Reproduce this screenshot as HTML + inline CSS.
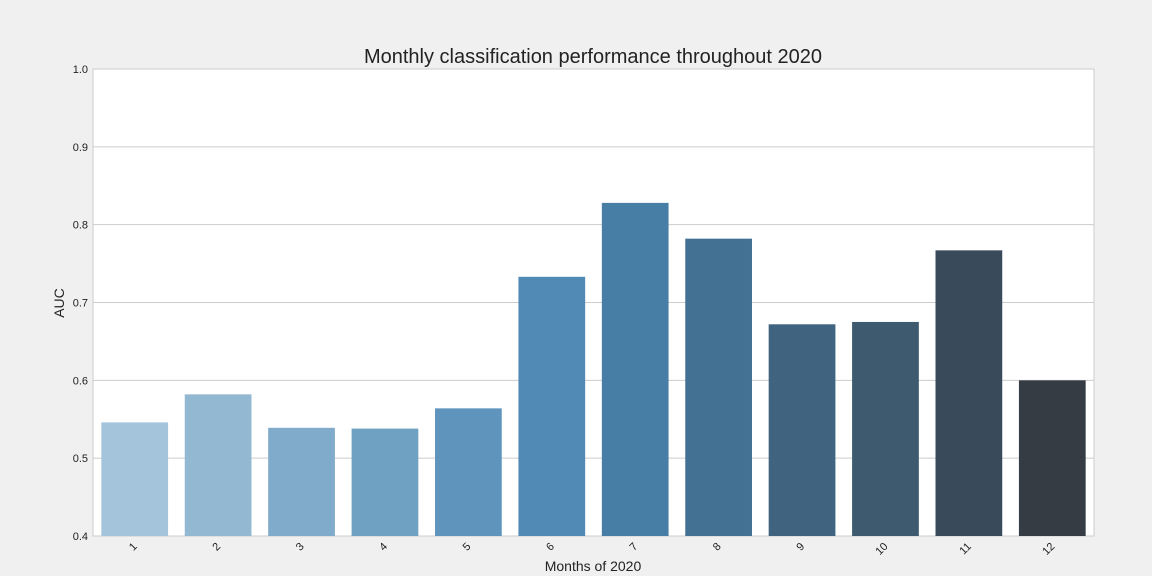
<!DOCTYPE html>
<html><head><meta charset="utf-8"><style>
html,body{margin:0;padding:0;background:#f0f0f0;}
svg{display:block;font-family:"Liberation Sans",sans-serif;}
</style></head><body>
<svg id="chart" width="1152" height="576">
<rect x="0" y="0" width="1152" height="576" fill="#f0f0f0"/>
<rect x="93" y="69" width="1001" height="467" fill="#ffffff" stroke="#cccccc"/>
<g id="grid"></g>
<g id="bars"></g>
<g id="xt"></g>
<g id="yt"></g>
<text x="593" y="63" text-anchor="middle" font-size="20" fill="#222">Monthly classification performance throughout 2020</text>
<text x="593" y="571" text-anchor="middle" font-size="14" fill="#222">Months of 2020</text>
<text transform="translate(64,303) rotate(-90)" text-anchor="middle" font-size="14" fill="#222">AUC</text>
</svg>
<script>
const categories = ["1","2","3","4","5","6","7","8","9","10","11","12"];
const aucValues = [0.546,0.582,0.539,0.538,0.564,0.733,0.828,0.782,0.672,0.675,0.767,0.600];
const yTicks = [0.4,0.5,0.6,0.7,0.8,0.9,1.0];
const colors = ["#a3c4da","#93b8d1","#80abca","#6fa1c2","#5f95bd","#508ab5","#467ea6","#437193","#40647f","#3d5a6e","#394b5b","#353c43"];
const NS="http://www.w3.org/2000/svg";
const x0=93,x1=1094,yTop=69,yBot=536,yMin=0.4,yMax=1.0;
const band=(x1-x0)/categories.length, bw=band*0.8;
const y=v=>yBot-(v-yMin)/(yMax-yMin)*(yBot-yTop);
const xc=i=>x0+band*(i+0.5);
const grid=document.getElementById('grid'),yt=document.getElementById('yt'),bars=document.getElementById('bars'),xt=document.getElementById('xt');
yTicks.forEach(t=>{
 const l=document.createElementNS(NS,'line');
 l.setAttribute('x1',x0);l.setAttribute('x2',x1);l.setAttribute('y1',y(t));l.setAttribute('y2',y(t));
 l.setAttribute('stroke','#cccccc');
 
 
 grid.appendChild(l);
 const tx=document.createElementNS(NS,'text');
 tx.setAttribute('x',88);tx.setAttribute('y',y(t)+4);tx.setAttribute('text-anchor','end');
 tx.setAttribute('font-size','11');tx.setAttribute('fill','#222');
 tx.textContent=t.toFixed(1);
 
 
 yt.appendChild(tx);
});
categories.forEach((c,i)=>{
 const r=document.createElementNS(NS,'rect');
 r.setAttribute('x',xc(i)-bw/2);r.setAttribute('width',bw);
 r.setAttribute('y',y(aucValues[i]));r.setAttribute('height',yBot-y(aucValues[i]));
 r.setAttribute('fill',colors[i]);
 
 
 bars.appendChild(r);
 const tx=document.createElementNS(NS,'text');
 tx.setAttribute('transform','translate('+(xc(i)+3)+',547) rotate(-45)');
 tx.setAttribute('text-anchor','end');tx.setAttribute('font-size','11');tx.setAttribute('fill','#222');
 tx.textContent=c;
 
 
 xt.appendChild(tx);
});
</script>
</body></html>
